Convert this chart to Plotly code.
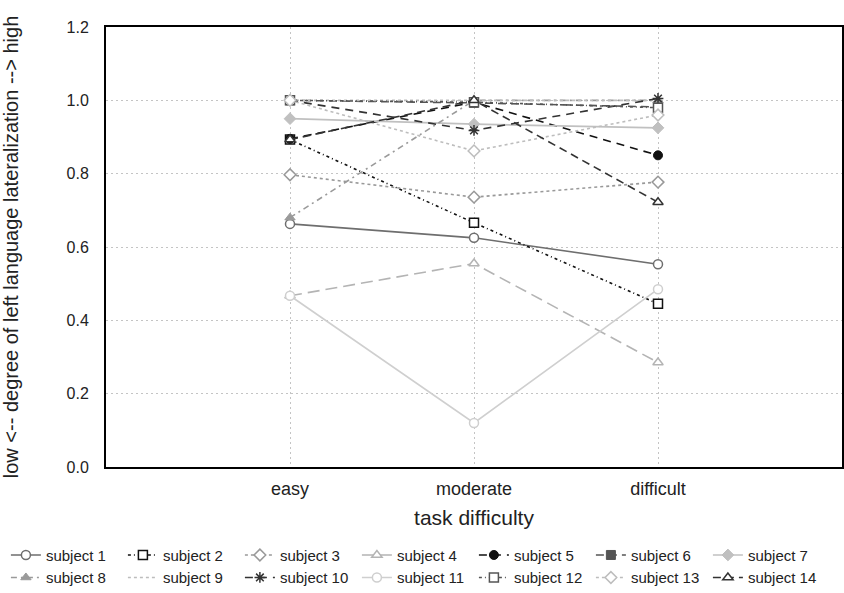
import plotly.graph_objects as go

categories = ["easy", "moderate", "difficult"]

subject_names = [f"subject {i}" for i in range(1, 15)]

s1 = [0.663, 0.625, 0.553]
s2 = [0.893, 0.666, 0.445]
s3 = [0.797, 0.736, 0.777]
s4 = [0.467, 0.555, 0.285]
s5 = [0.895, 0.995, 0.850]
s6 = [1.000, 0.993, 0.982]
s7 = [0.950, 0.935, 0.925]
s8 = [0.680, 1.000, 1.000]
s9 = [1.000, 1.000, 1.000]
s10 = [1.000, 0.918, 1.005]
s11 = [0.467, 0.120, 0.485]
s12 = [1.000, 0.995, 0.980]
s13 = [1.000, 0.862, 0.960]
s14 = [0.893, 1.000, 0.722]

series = [s1, s2, s3, s4, s5, s6, s7, s8, s9, s10, s11, s12, s13, s14]

y_tickvals = [0.0, 0.2, 0.4, 0.6, 0.8, 1.0, 1.2]
y_ticktext = ["0.0", "0.2", "0.4", "0.6", "0.8", "1.0", "1.2"]

styles = [
    dict(color="#6e6e6e", dash="solid", symbol="circle", filled=False),
    dict(color="#111111", dash="3px,3px,1px,3px", symbol="square", filled=False),
    dict(color="#999999", dash="dot", symbol="diamond", filled=False),
    dict(color="#b4b4b4", dash="12px,6px", symbol="triangle-up", filled=False),
    dict(color="#111111", dash="8px,6px", symbol="circle", filled=True),
    dict(color="#555555", dash="8px,5px", symbol="square", filled=True),
    dict(color="#c0c0c0", dash="solid", symbol="diamond", filled=True),
    dict(color="#9a9a9a", dash="6px,4px,2px,4px", symbol="triangle-up", filled=True),
    dict(color="#bdbdbd", dash="dot", symbol=None, filled=False),
    dict(color="#333333", dash="8px,6px", symbol="asterisk-open", filled=False),
    dict(color="#cfcfcf", dash="solid", symbol="circle", filled=False),
    dict(color="#555555", dash="3px,3px,1px,3px", symbol="square", filled=False),
    dict(color="#bdbdbd", dash="dot", symbol="diamond", filled=False),
    dict(color="#333333", dash="8px,5px", symbol="triangle-up", filled=False),
]

fig = go.Figure()
for name, vals, st in zip(subject_names, series, styles):
    if st["symbol"] is None:
        mode = "lines"
        marker = None
    else:
        mode = "lines+markers"
        if st["symbol"] == "asterisk-open":
            marker = dict(symbol="asterisk-open", size=9, color=st["color"],
                          line=dict(color=st["color"], width=1.5))
        elif st["filled"]:
            marker = dict(symbol=st["symbol"], size=9, color=st["color"],
                          line=dict(color=st["color"], width=1))
        else:
            marker = dict(symbol=st["symbol"], size=9, color="white",
                          line=dict(color=st["color"], width=1.5))
    fig.add_trace(go.Scatter(
        x=categories, y=vals, name=name, mode=mode,
        line=dict(color=st["color"], width=1.6, dash=st["dash"]),
        marker=marker,
    ))

font_family = "Liberation Sans, Arial, sans-serif"

fig.update_layout(
    width=844, height=593,
    margin=dict(l=106, r=2, t=27, b=126, autoexpand=False),
    paper_bgcolor="white",
    plot_bgcolor="white",
    font=dict(family=font_family, size=15, color="#222222"),
    xaxis=dict(
        type="category",
        categoryorder="array", categoryarray=categories,
        range=[-1.0, 3.0],
        showgrid=True, gridcolor="#c4c4c4", griddash="2px,3px", gridwidth=1,
        showline=True, linecolor="black", linewidth=2, mirror=True,
        ticks="", tickfont=dict(size=18), ticklabelstandoff=4,
        title=dict(text="task difficulty", font=dict(size=21), standoff=13),
        zeroline=False, automargin=False,
    ),
    yaxis=dict(
        range=[0, 1.2],
        tickvals=y_tickvals, ticktext=y_ticktext,
        showgrid=True, gridcolor="#c4c4c4", griddash="2px,3px", gridwidth=1,
        showline=True, linecolor="black", linewidth=2, mirror=True,
        ticks="", tickfont=dict(size=16), ticklabelstandoff=12,
        title=dict(text="low <-- degree of left language lateralization --> high",
                   font=dict(size=20), standoff=49),
        zeroline=False, automargin=False,
    ),
    legend=dict(
        orientation="h",
        x=-0.136, xanchor="left",
        y=-0.163, yanchor="top",
        entrywidth=72, entrywidthmode="pixels",
        font=dict(size=15),
        itemwidth=30,
        tracegroupgap=0,
    ),
    showlegend=True,
)

fig.write_html("out.html", post_script="document.body.style.margin='0';",
               config={"displayModeBar": False})
